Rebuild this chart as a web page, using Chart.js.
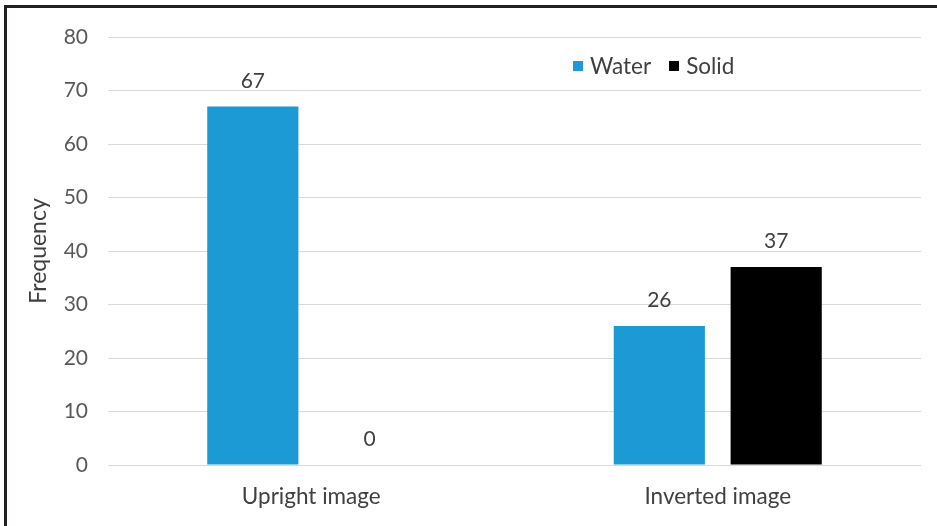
<!DOCTYPE html>
<html>
<head>
<meta charset="utf-8">
<script src="https://cdn.jsdelivr.net/npm/chart.js@4"></script>
<style>
  html, body { margin:0; padding:0; background:#fff; }
  #wrap {
    position:absolute; left:4px; top:5px; width:933px; height:521px;
    border-top:3px solid #231f20; border-left:3px solid #231f20;
    box-sizing:border-box;
  }
  #box { position:absolute; left:0; top:0; width:937px; height:526px; }
  #legend {
    position:absolute; left:573px; top:52px;
    font-family:Lato, sans-serif; font-size:22.5px; color:#404040;
    display:flex; align-items:center;
  }
  #legend span.sw { display:inline-block; width:10px; height:10px; margin-right:7px; }
  #legend span.item { display:flex; align-items:center; margin-right:18px; }
</style>
</head>
<body>
<div id="wrap"></div>
<div id="box"><canvas id="chart"></canvas></div>
<div id="legend"></div>
<script>

/* ========================= */
/* DATOS */
/* ========================= */

const categories = ["Upright image", "Inverted image"];

const seriesNames = ["Water", "Solid"];

const waterValues = [67, 26];
const solidValues = [0, 37];

const yTicks = [0, 10, 20, 30, 40, 50, 60, 70, 80];

const seriesColors = ["#1b9ad6", "#000000"];

/* ========================= */
/* LEYENDA */
/* ========================= */

const legend = document.getElementById("legend");

seriesNames.forEach((name, i) => {
  const item = document.createElement("span");
  item.className = "item";
  item.innerHTML =
  '<span class="sw" style="background:' + seriesColors[i] + '"></span>' + name;
  legend.appendChild(item);
});

/* ========================= */
/* ETIQUETAS */
/* ========================= */

const valueLabels = {
  id: "valueLabels",
  afterDatasetsDraw(chart){
    const ctx = chart.ctx;
    ctx.save();
    ctx.font = "21px Lato";
    ctx.fillStyle = "#404040";
    ctx.textAlign = "center";
    ctx.textBaseline = "bottom";
    chart.data.datasets.forEach((ds, i) => {
      chart.getDatasetMeta(i).data.forEach((bar, j) => {
        ctx.fillText(ds.data[j], bar.x, bar.y - 15);
      });
    });
    ctx.restore();
  }
};

/* ========================= */
/* GRAFICO */
/* ========================= */

new Chart(
document.getElementById("chart"),
{
  type: 'bar',
  data: {
    labels: categories,
    datasets: [{
      label: seriesNames[0],
      data: waterValues,
      backgroundColor: seriesColors[0],
      categoryPercentage: 0.575,
      barPercentage: 0.78
    },{
      label: seriesNames[1],
      data: solidValues,
      backgroundColor: seriesColors[1],
      categoryPercentage: 0.575,
      barPercentage: 0.78
    }]
  },
  options:{
    responsive:true,
    maintainAspectRatio:false,
    animation:false,
    layout:{
      padding:{ top:37, right:16, bottom:6, left:25 }
    },
    plugins:{
      legend:{ display:false },
      tooltip:{ enabled:false }
    },
    scales:{
      x:{
        grid:{ display:false },
        border:{ display:false },
        ticks:{
          color:'#404040',
          font:{ family:'Lato', size:22.5 },
          padding:10
        }
      },
      y:{
        min:0,
        max:80,
        afterBuildTicks:(axis) => {
          axis.ticks = yTicks.map(v => ({ value:v }));
        },
        afterFit:(axis) => {
          axis.width = 83;
        },
        grid:{ color:'#d9d9d9', lineWidth:1, drawTicks:false },
        border:{ display:false },
        ticks:{
          color:'#595959',
          font:{ family:'Lato', size:21 },
          padding:20
        },
        title:{
          display:true,
          text:'Frequency',
          color:'#404040',
          font:{ family:'Lato', size:23 },
          padding:{ top:0, bottom:0 }
        }
      }
    }
  },
  plugins:[valueLabels]
});

</script>
</body>
</html>
